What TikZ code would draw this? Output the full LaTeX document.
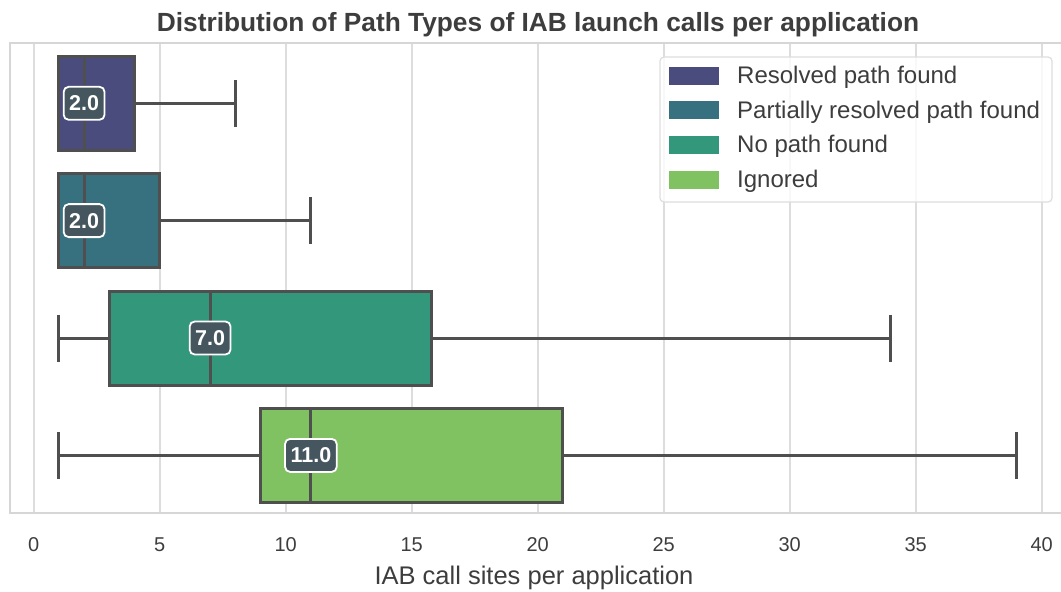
\documentclass[tikz,border=0pt]{standalone}
\usepackage{fontspec}
\setmainfont{Liberation Sans}
\definecolor{gridc}{HTML}{DDDDDD}
\definecolor{framec}{HTML}{D6D6D6}
\definecolor{edgec}{HTML}{4F4F4F}
\definecolor{txtc}{HTML}{3D3D3D}
\definecolor{labc}{HTML}{45565F}
\definecolor{cres}{HTML}{4A4C7E}
\definecolor{cpart}{HTML}{37717F}
\definecolor{cnone}{HTML}{33977C}
\definecolor{cign}{HTML}{80C161}
\begin{document}
\begin{tikzpicture}[x=1pt,y=-1pt,
  gridline/.style={draw=gridc,line width=1.8pt},
  axframe/.style={draw=framec,line width=2.4pt},
  boxst/.style={draw=edgec,line width=3pt},
  whisk/.style={draw=edgec,line width=3pt},
  medlab/.style={fill=labc,draw=white,line width=1.8pt,rounded corners=5pt,
    text=white,font=\bfseries\fontsize{21.5}{21.5}\selectfont,
    inner xsep=5.5pt,minimum height=33pt,inner ysep=0pt},
  ticklab/.style={text=txtc,font=\fontsize{20}{20}\selectfont,inner sep=0pt},
  legtext/.style={text=txtc,font=\fontsize{24}{24}\selectfont,anchor=base west,inner sep=0pt},
  swatch/.style={draw=white,line width=0.6pt}]
\useasboundingbox (0,0) rectangle (1061,592);

% title
\node[text=txtc,font=\bfseries\fontsize{26.3}{26.3}\selectfont,anchor=base] (title) at (538,31) {Distribution of Path Types of IAB launch calls per application};

% data coordinates: x in call sites, y in pixels
\begin{scope}[xshift=33.7pt,x=25.2pt]
  % vertical grid lines and tick labels
  \foreach \v in {0,5,...,40}{
    \draw[gridline] (\v,43) -- (\v,513);
    \node[ticklab] (tick\v) at (\v,545) {\v};
  }
  % axes frame
  \draw[axframe] (-0.94,43) rectangle (40.9,513);

  % Resolved path found
  \draw[whisk] (4,103.3) -- (8,103.3);
  \draw[whisk] (8,79.8) -- (8,126.8);
  \draw[boxst,fill=cres] (1,56.3) rectangle (4,150.3);
  \draw[boxst] (2,56.3) -- (2,150.3);
  \node[medlab] (m1) at (2,103.3) {2.0};

  % Partially resolved path found
  \draw[whisk] (5,220.6) -- (11,220.6);
  \draw[whisk] (11,197.1) -- (11,244.1);
  \draw[boxst,fill=cpart] (1,173.6) rectangle (5,267.6);
  \draw[boxst] (2,173.6) -- (2,267.6);
  \node[medlab] (m2) at (2,220.6) {2.0};

  % No path found
  \draw[whisk] (1,338) -- (3,338);
  \draw[whisk] (1,314.5) -- (1,361.5);
  \draw[whisk] (15.77,338) -- (34,338);
  \draw[whisk] (34,314.5) -- (34,361.5);
  \draw[boxst,fill=cnone] (3,291) rectangle (15.77,385);
  \draw[boxst] (7,291) -- (7,385);
  \node[medlab] (m3) at (7,338) {7.0};

  % Ignored
  \draw[whisk] (1,455.4) -- (9,455.4);
  \draw[whisk] (1,431.9) -- (1,478.9);
  \draw[whisk] (21,455.4) -- (39,455.4);
  \draw[whisk] (39,431.9) -- (39,478.9);
  \draw[boxst,fill=cign] (9,408.4) rectangle (21,502.4);
  \draw[boxst] (11,408.4) -- (11,502.4);
  \node[medlab] (m4) at (11,455.4) {11.0};
\end{scope}

% x axis label
\node[text=txtc,font=\fontsize{25.5}{25.5}\selectfont,anchor=base] (xlabel) at (534,584) {IAB call sites per application};

% legend
\draw[draw=gridc,fill=white,fill opacity=0.8,line width=1.2pt,rounded corners=4pt] (660,57) rectangle (1052,202);
\foreach \c/\t [count=\i from 0] in {cres/Resolved path found,cpart/Partially resolved path found,cnone/No path found,cign/Ignored}{
  \path[swatch,fill=\c] (668,{75.5+34.7*\i-9.5}) rectangle (719,{75.5+34.7*\i+9.5});
  \node[legtext] (leg\i) at (737,{83.5+34.7*\i}) {\t};
}
\end{tikzpicture}
\end{document}
